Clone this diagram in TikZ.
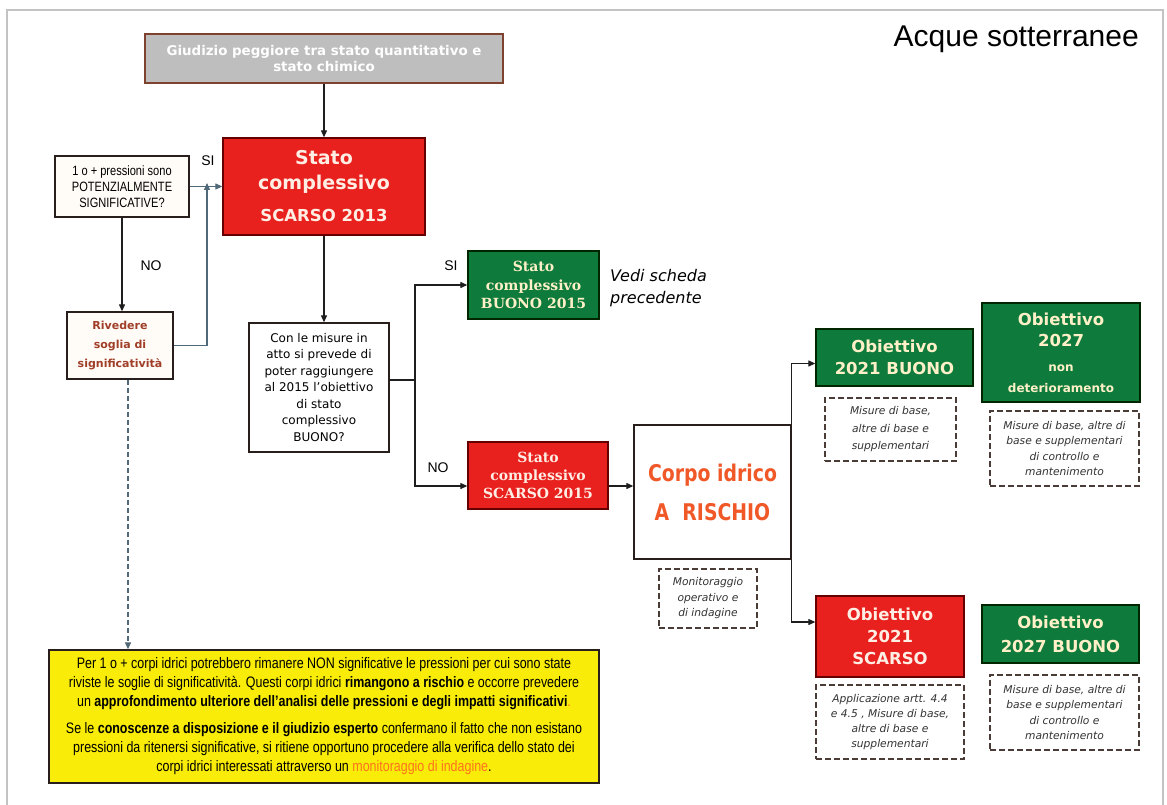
\documentclass[tikz,border=0pt]{standalone}
\usepackage{fontspec}
\setmainfont{DejaVu Sans}
\newfontfamily\arialn{Liberation Sans}[FakeStretch=0.82]
\newfontfamily\arialf{Liberation Sans}
\newfontfamily\dser{DejaVu Serif}
\newfontfamily\tahb{DejaVu Sans}[FakeStretch=0.82]
\usetikzlibrary{arrows.meta,calc}
\definecolor{framecol}{RGB}{195,195,195}
\definecolor{redfill}{RGB}{232,32,30}
\definecolor{greenfill}{RGB}{14,122,60}
\definecolor{cream}{RGB}{255,240,200}
\definecolor{pinkwhite}{RGB}{255,238,228}
\definecolor{grayfill}{RGB}{190,190,190}
\definecolor{grayborder}{RGB}{125,65,45}
\definecolor{rivtext}{RGB}{160,62,40}
\definecolor{corpotext}{RGB}{240,88,40}
\definecolor{yellowfill}{RGB}{248,236,8}
\definecolor{orangetext}{RGB}{255,115,30}
\definecolor{linecol}{RGB}{30,30,30}
\definecolor{slate}{RGB}{80,105,120}
\definecolor{dashcol}{RGB}{75,60,55}
\definecolor{boxborder}{RGB}{40,30,28}
\newcommand{\fsz}[2]{\fontsize{#1}{#2}\selectfont}
\tikzset{
  box/.style={draw=boxborder, line width=1.3, inner sep=0, align=center},
  redbox/.style={box, fill=redfill, draw=red!40!black},
  greenbox/.style={box, fill=greenfill, draw=green!15!black},
  dbox/.style={draw=dashcol, line width=1.1, dash pattern=on 6pt off 3pt, inner sep=0, align=center, text=black!80},
  arr/.style={draw=linecol, line width=1.1, -{Triangle[length=7pt,width=6pt]}},
  lbl/.style={font=\arialf\fsz{14}{16}, inner sep=0}
}
\begin{document}
\begin{tikzpicture}[x=1pt,y=-1pt]
\useasboundingbox (0,0) rectangle (1167,805);
\fill[white] (0,0) rectangle (1167,805);
\draw[framecol, line width=2] (7,805) -- (7,10) -- (1163,10) -- (1163,805);

% title
\node[anchor=base east, font=\arialf\fsz{30}{34}, inner sep=0] (title) at (1139,47) {Acque sotterranee};

% nodes
\node[box, fill=grayfill, draw=grayborder, line width=1.6, minimum width=358, minimum height=49,
      text=white, font=\bfseries\fsz{13.4}{16}] (top) at (324,58.5)
  {Giudizio peggiore tra stato quantitativo e\\stato chimico};

\node[redbox, minimum width=202, minimum height=97, text=pinkwhite, font=\bfseries\fsz{19}{25}] (s13) at (324,186.5)
  {Stato\\complessivo\\[7pt]{\fsz{16.5}{20}SCARSO 2013}};

\node[box, fill=orange!3, minimum width=134, minimum height=61, font=\arialn\fsz{13.5}{16}] (q1) at (122,186.5)
  {1 o + pressioni sono\\POTENZIALMENTE\\SIGNIFICATIVE?};

\node[box, fill=orange!3, minimum width=106, minimum height=67, text=rivtext, font=\bfseries\fsz{11}{19}] (riv) at (120,345.5)
  {Rivedere\\soglia di\\significatività};

\node[box, minimum width=140, minimum height=129, font=\fsz{12}{16.5}] (q2) at (319,387.5)
  {Con le misure in\\atto si prevede di\\poter raggiungere\\al 2015 l’obiettivo\\di stato\\complessivo\\BUONO?};

\node[greenbox, minimum width=131, minimum height=68, text=cream, font=\dser\bfseries\fsz{14}{18.5}] (g15) at (533.5,285)
  {Stato\\complessivo\\BUONO 2015};

\node[anchor=west, align=left, inner sep=0, font=\itshape\fsz{16}{22}] (vedi) at (610,288)
  {Vedi scheda\\precedente};

\node[redbox, minimum width=140, minimum height=67, text=pinkwhite, font=\dser\bfseries\fsz{14}{18}] (r15) at (538,475.5)
  {Stato\\complessivo\\SCARSO 2015};

\node[box, minimum width=157, minimum height=134, text=corpotext, font=\tahb\bfseries\fsz{23}{39}] (corpo) at (712.5,492)
  {Corpo idrico\\A\ \ RISCHIO};

\node[dbox, minimum width=98, minimum height=59, font=\itshape\fsz{10.7}{15.5}] (monit) at (708,598.5)
  {Monitoraggio\\operativo e\\di indagine};

\node[greenbox, minimum width=157, minimum height=57, text=cream, font=\bfseries\fsz{16.5}{22}] (o21b) at (894.5,357.5)
  {Obiettivo\\2021 BUONO};

\node[dbox, minimum width=131, minimum height=63, font=\itshape\fsz{10.7}{17.5}] (d21b) at (890.5,429.5)
  {Misure di base,\\altre di base e\\supplementari};

\node[greenbox, minimum width=158, minimum height=99, text=cream, font=\bfseries\fsz{16.5}{21}] (o27n) at (1061,352.5)
  {Obiettivo\\2027\\[4pt]{\fsz{12}{16}non}\\{\fsz{12}{16}deterioramento}};

\node[dbox, minimum width=149, minimum height=75, font=\itshape\fsz{10.7}{15.5}] (d27n) at (1064.5,448.5)
  {Misure di base, altre di\\base e supplementari\\di controllo e\\mantenimento};

\node[redbox, minimum width=148, minimum height=81, text=pinkwhite, font=\bfseries\fsz{16.5}{22}] (o21s) at (890,636.5)
  {Obiettivo\\2021\\SCARSO};

\node[dbox, minimum width=148, minimum height=74, font=\itshape\fsz{10.7}{15.3}] (d21s) at (890,722)
  {Applicazione artt. 4.4\\e 4.5 , Misure di base,\\altre di base e\\supplementari};

\node[greenbox, minimum width=157, minimum height=58, text=cream, font=\bfseries\fsz{16.5}{24}] (o27b) at (1060.5,634)
  {Obiettivo\\2027 BUONO};

\node[dbox, minimum width=149, minimum height=75, font=\itshape\fsz{10.7}{15.5}] (d27b) at (1064.5,712.5)
  {Misure di base, altre di\\base e supplementari\\di controllo e\\mantenimento};

\node[box, fill=yellowfill, minimum width=550, minimum height=133, font=\arialn\fsz{15.2}{19}] (yel) at (324,716.5)
  {Per 1 o + corpi idrici potrebbero rimanere NON significative le pressioni per cui sono state\\
   riviste le soglie di significatività. Questi corpi idrici \textbf{rimangono a rischio} e occorre prevedere\\
   un \textbf{approfondimento ulteriore dell’analisi delle pressioni e degli impatti significativi}{\color{orangetext}.}\\[8pt]
   Se le \textbf{conoscenze a disposizione e il giudizio esperto} confermano il fatto che non esistano\\
   pressioni da ritenersi significative, si ritiene opportuno procedere alla verifica dello stato dei\\
   corpi idrici interessati attraverso un {\color{orangetext}monitoraggio di indagine}.};

% labels
\node[lbl] (si1) at (208,161) {SI};
\node[lbl] (no1) at (151,266) {NO};
\node[lbl] (si2) at (451,266) {SI};
\node[lbl] (no2) at (438,468) {NO};

% coordinates
\coordinate (up) at (207,183);
\coordinate (split) at (415,380);
\coordinate (r15in) at ([yshift=-10.5]r15.west);
\coordinate (r15out) at ([yshift=-10.5]r15.east);
\coordinate (o21bin) at ([yshift=-6]o21b.west);
\coordinate (o21sin) at ([yshift=14.5]o21s.west);
\coordinate (dstart) at ([xshift=8]riv.south);

% connectors
\draw[arr] (top.south) -- (s13.north);
\draw[arr, draw=slate] (q1.east) -- (s13.west |- q1.east);
\draw[arr] (q1.south) -- (q1.south |- riv.north);
\draw[arr, draw=slate] (riv.east) -| (up);
\draw[arr, draw=slate, dash pattern=on 5pt off 3pt] (dstart) -- (dstart |- yel.north);
\draw[arr] (s13.south) -- (s13.south |- q2.north);
\draw[linecol, line width=1.1] (q2.east |- split) -- (split);
\draw[arr] (split) |- (g15.west);
\draw[arr] (split) |- (r15in);
\draw[arr] (r15out) -- (corpo.west |- r15out);
\draw[arr] (corpo.north east) |- (o21bin);
\draw[arr] (corpo.south east) |- (o21sin);
\end{tikzpicture}
\end{document}
